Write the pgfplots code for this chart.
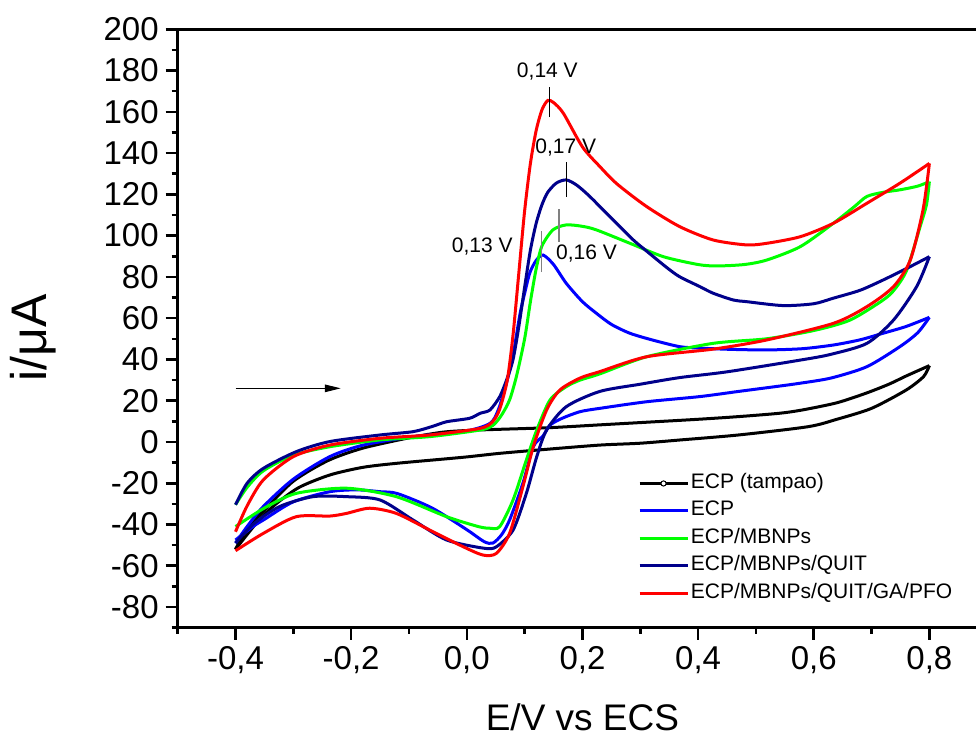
\documentclass[border=0pt]{standalone}
\usepackage{fontspec}
\setmainfont{Liberation Sans}
\usepackage{pgfplots}
\pgfplotsset{compat=1.18}
\usetikzlibrary{arrows.meta}
\definecolor{cvnavy}{RGB}{0,0,139}
\definecolor{cvblue}{RGB}{0,0,255}
\definecolor{cvgreen}{RGB}{0,255,0}
\definecolor{cvred}{RGB}{255,0,0}

\begin{document}
\begin{tikzpicture}
\begin{axis}[
    name=ax,
    scale only axis, width=404.75pt, height=299.2pt,
    xmin=-0.5, xmax=0.9, ymin=-90, ymax=200,
    clip mode=individual,
    xtick={-0.4,-0.2,0,0.2,0.4,0.6,0.8},
    minor xtick={-0.5,-0.3,-0.1,0.1,0.3,0.5,0.7,0.9},
    ytick={-80,-60,-40,-20,0,20,40,60,80,100,120,140,160,180,200},
    minor ytick={-90,-70,-50,-30,-10,10,30,50,70,90,110,130,150,170,190},
    tick pos=left, tick align=outside,
    major tick length=6pt, minor tick length=3pt,
    every tick/.style={black, line width=1.3pt},
    axis line style={line width=1.3pt},
    tick label style={font=\fontsize{16.5}{18}\selectfont},
    /pgf/number format/assume math mode=true,
    xticklabel style={/pgf/number format/.cd, use comma, fixed, fixed zerofill, precision=1},
    yticklabel style={/pgf/number format/.cd, fixed, precision=0},
    xlabel={E/V vs ECS},
    xlabel style={font=\fontsize{18.5}{20}\selectfont, at={(axis description cs:0.5,-0.171)}, anchor=base},
    legend style={draw=none, fill=none, at={(axis description cs:0.561,0.2686)}, anchor=north west,
      font=\fontsize{10.5}{12}\selectfont, row sep=1.6pt, cells={anchor=west},
      nodes={inner sep=1pt, text height=7.6pt, text depth=2.5pt}},
    legend image code/.code={\draw[mark repeat=2, mark phase=2, #1] plot coordinates {(0pt,0pt) (11.9pt,0pt) (23.8pt,0pt)};},
    legend cell align=left,
    every axis plot/.append style={line width=1.5pt, smooth, tension=0.45},
  ]
  % ECP (tampao)
  \addplot[black, forget plot] coordinates {(-0.4,-52) (-0.38,-42) (-0.35,-33) (-0.3,-19) (-0.24,-9) (-0.18,-3) (-0.1,2) (-0.04,4.8) (0.02,5.8) (0.14,6.9) (0.23,8.3) (0.3,9.4) (0.4,11) (0.47,12.3) (0.54,13.9) (0.58,15.5) (0.64,19) (0.69,23.6) (0.73,28) (0.76,32) (0.8,37)};
  \addplot[black, forget plot] coordinates {(0.8,37) (0.79,31.7) (0.76,25.2) (0.7,16.3) (0.64,11) (0.59,7.4) (0.47,3.4) (0.37,1) (0.3,-0.6) (0.23,-1.5) (0.14,-3.5) (0.057,-5.5) (-0.006,-7.4) (-0.12,-10.3) (-0.18,-12.3) (-0.237,-16) (-0.29,-22) (-0.33,-30) (-0.36,-38) (-0.4,-52)};
  % ECP
  \addplot[cvblue, forget plot] coordinates {(-0.4,-49) (-0.38,-41) (-0.352,-31.3) (-0.3,-18) (-0.237,-7.1) (-0.179,-1.5) (-0.093,2.6) (-0.006,5.0) (0.04,9) (0.055,16) (0.07,30) (0.08,42) (0.092,62) (0.1,72) (0.109,82) (0.12,88) (0.132,90.6) (0.15,86) (0.172,76.9) (0.2,68) (0.224,62.4) (0.25,57) (0.282,52.7) (0.32,49.5) (0.368,46.2) (0.403,45.5) (0.455,44.9) (0.518,44.6) (0.58,45.2) (0.634,47) (0.68,49.5) (0.72,52.7) (0.76,56) (0.8,60.4)};
  \addplot[cvblue, forget plot] coordinates {(0.8,60.4) (0.78,53) (0.749,46.2) (0.692,36.5) (0.63,31) (0.577,28.5) (0.541,27.1) (0.47,24.5) (0.403,22) (0.311,19.5) (0.23,16.3) (0.196,14.7) (0.165,11.5) (0.144,8.2) (0.132,3) (0.115,-2.3) (0.097,-20) (0.074,-37.8) (0.06,-45) (0.045,-49) (0.03,-48.3) (0.0,-42.5) (-0.06,-32) (-0.12,-25) (-0.15,-24.1) (-0.19,-23.2) (-0.237,-24.1) (-0.3,-29) (-0.35,-37.5) (-0.37,-41) (-0.4,-47.5)};
  % ECP/MBNPs
  \addplot[cvgreen, forget plot] coordinates {(-0.4,-30.4) (-0.38,-22) (-0.352,-14) (-0.3,-6.4) (-0.237,-2.3) (-0.15,1.0) (-0.064,2.6) (0.023,5.8) (0.045,8) (0.06,13) (0.074,20.4) (0.086,32) (0.1,50) (0.11,68) (0.12,84) (0.13,95) (0.149,102.8) (0.172,105.2) (0.2,104.5) (0.224,102.8) (0.282,96.3) (0.34,89.8) (0.4,86) (0.432,85.3) (0.48,86) (0.519,88.2) (0.577,94.7) (0.634,106) (0.67,114) (0.692,119) (0.72,121) (0.749,122.2) (0.78,124) (0.8,126.2)};
  \addplot[cvgreen, forget plot] coordinates {(0.8,126.2) (0.795,115) (0.784,104.4) (0.761,83.4) (0.74,74) (0.72,68.8) (0.663,59.1) (0.6,54) (0.518,50) (0.426,47.8) (0.311,41.3) (0.23,33) (0.196,30) (0.172,26.8) (0.144,20.4) (0.121,5.8) (0.103,-8.7) (0.08,-28.1) (0.057,-41) (0.04,-41.8) (0.02,-41) (-0.035,-36.2) (-0.122,-26.5) (-0.208,-22.4) (-0.295,-24.9) (-0.35,-32) (-0.4,-41)};
  % ECP/MBNPs/QUIT
  \addplot[cvnavy, forget plot] coordinates {(-0.4,-30.4) (-0.38,-20) (-0.352,-12.8) (-0.295,-4.7) (-0.237,0.2) (-0.15,3.4) (-0.093,5.0) (-0.06,7.5) (-0.035,9.8) (0.005,11.5) (0.023,13.9) (0.04,15.5) (0.057,22) (0.07,31) (0.08,40) (0.09,56) (0.1,75) (0.11,93) (0.12,106) (0.13,115) (0.14,121) (0.155,125.5) (0.172,127) (0.19,124.5) (0.213,118.9) (0.253,107.6) (0.288,97.9) (0.311,92.5) (0.346,84.5) (0.368,80.1) (0.403,75.3) (0.426,72.1) (0.461,68.8) (0.484,68) (0.547,66.1) (0.6,67) (0.634,69.7) (0.68,73.5) (0.72,78.5) (0.76,84) (0.8,89.8)};
  \addplot[cvnavy, forget plot] coordinates {(0.8,89.8) (0.778,75.3) (0.738,59.1) (0.692,47.8) (0.63,42.5) (0.577,39.7) (0.45,34) (0.368,31.2) (0.3,28) (0.23,24.5) (0.172,17.1) (0.138,5.8) (0.121,-7.1) (0.103,-24.9) (0.08,-42.7) (0.051,-50.8) (0.03,-51.5) (-0.035,-47.5) (-0.093,-37.8) (-0.15,-28.1) (-0.208,-26.5) (-0.266,-26.5) (-0.324,-31.3) (-0.37,-40) (-0.4,-49)};
  % ECP/MBNPs/QUIT/GA/PFO
  \addplot[cvred, forget plot] coordinates {(-0.4,-43.5) (-0.38,-31) (-0.352,-18.4) (-0.3,-7.1) (-0.237,-1.5) (-0.15,1.8) (-0.064,3.4) (0.023,6.6) (0.045,10) (0.057,16) (0.07,30) (0.08,52) (0.09,82) (0.1,112) (0.11,135) (0.12,151) (0.13,161) (0.14,165.5) (0.15,164.5) (0.167,159.3) (0.2,143) (0.23,133.5) (0.26,125) (0.311,114.1) (0.368,104.4) (0.426,97.9) (0.484,95.5) (0.519,96.3) (0.577,99.5) (0.634,106) (0.692,115.7) (0.749,125.4) (0.8,135)};
  \addplot[cvred, forget plot] coordinates {(0.8,135) (0.789,112.5) (0.767,88.2) (0.738,75.3) (0.692,65.6) (0.634,57.5) (0.518,49.4) (0.426,45) (0.311,41.3) (0.23,34.1) (0.196,31) (0.161,25.2) (0.138,15.5) (0.115,-2.3) (0.097,-21.7) (0.074,-44.3) (0.051,-54) (0.028,-54.8) (-0.006,-50.8) (-0.064,-42.7) (-0.122,-34.6) (-0.168,-32.1) (-0.208,-34.6) (-0.237,-35.9) (-0.295,-36.2) (-0.352,-44.3) (-0.4,-52.7)};

  \addlegendimage{black, line width=1.5pt, mark=*, mark size=1.3pt, mark options={fill=white, draw=black, line width=0.5pt}}
  \addlegendentry{ECP (tampao)}
  \addlegendimage{cvblue, line width=1.5pt}
  \addlegendentry{ECP}
  \addlegendimage{cvgreen, line width=1.5pt}
  \addlegendentry{ECP/MBNPs}
  \addlegendimage{cvnavy, line width=1.5pt}
  \addlegendentry{ECP/MBNPs/QUIT}
  \addlegendimage{cvred, line width=1.5pt}
  \addlegendentry{ECP/MBNPs/QUIT/GA/PFO}

  % y label set by hand
  \node[rotate=90, anchor=base, font=\fontsize{25}{27}\selectfont] at (axis description cs:-0.1615,0.484) {i/μA};
  % scan direction arrow
  \draw[line width=0.5pt, -{Triangle[length=8pt, width=3.8pt]}] (axis cs:-0.4,26) -- (axis cs:-0.218,26);
  % peak markers
  \draw[black, line width=0.5pt] (axis cs:0.1436,157.4) -- (axis cs:0.1436,172.2);
  \draw[black, line width=0.5pt] (axis cs:0.1725,118.9) -- (axis cs:0.1725,135.9);
  \draw[gray, line width=0.8pt] (axis cs:0.159,97.1) -- (axis cs:0.159,112.9);
  \draw[gray, line width=0.8pt] (axis cs:0.129,82.3) -- (axis cs:0.129,102.4);
  \node[font=\fontsize{10.5}{12}\selectfont, anchor=base] at (axis cs:0.1393,176.8) {0,14 V};
  \node[font=\fontsize{10.5}{12}\selectfont, anchor=base] at (axis cs:0.171,139.6) {0,17 V};
  \node[font=\fontsize{10.5}{12}\selectfont, anchor=base] at (axis cs:0.207,88.2) {0,16 V};
  \node[font=\fontsize{10.5}{12}\selectfont, anchor=base] at (axis cs:0.0268,91.8) {0,13 V};
\end{axis}
\pgfresetboundingbox
\path[use as bounding box] ([xshift=-88.85pt,yshift=-55.15pt]ax.south west) rectangle ([xshift=399.15pt,yshift=313.85pt]ax.south west);
\end{tikzpicture}
\end{document}
